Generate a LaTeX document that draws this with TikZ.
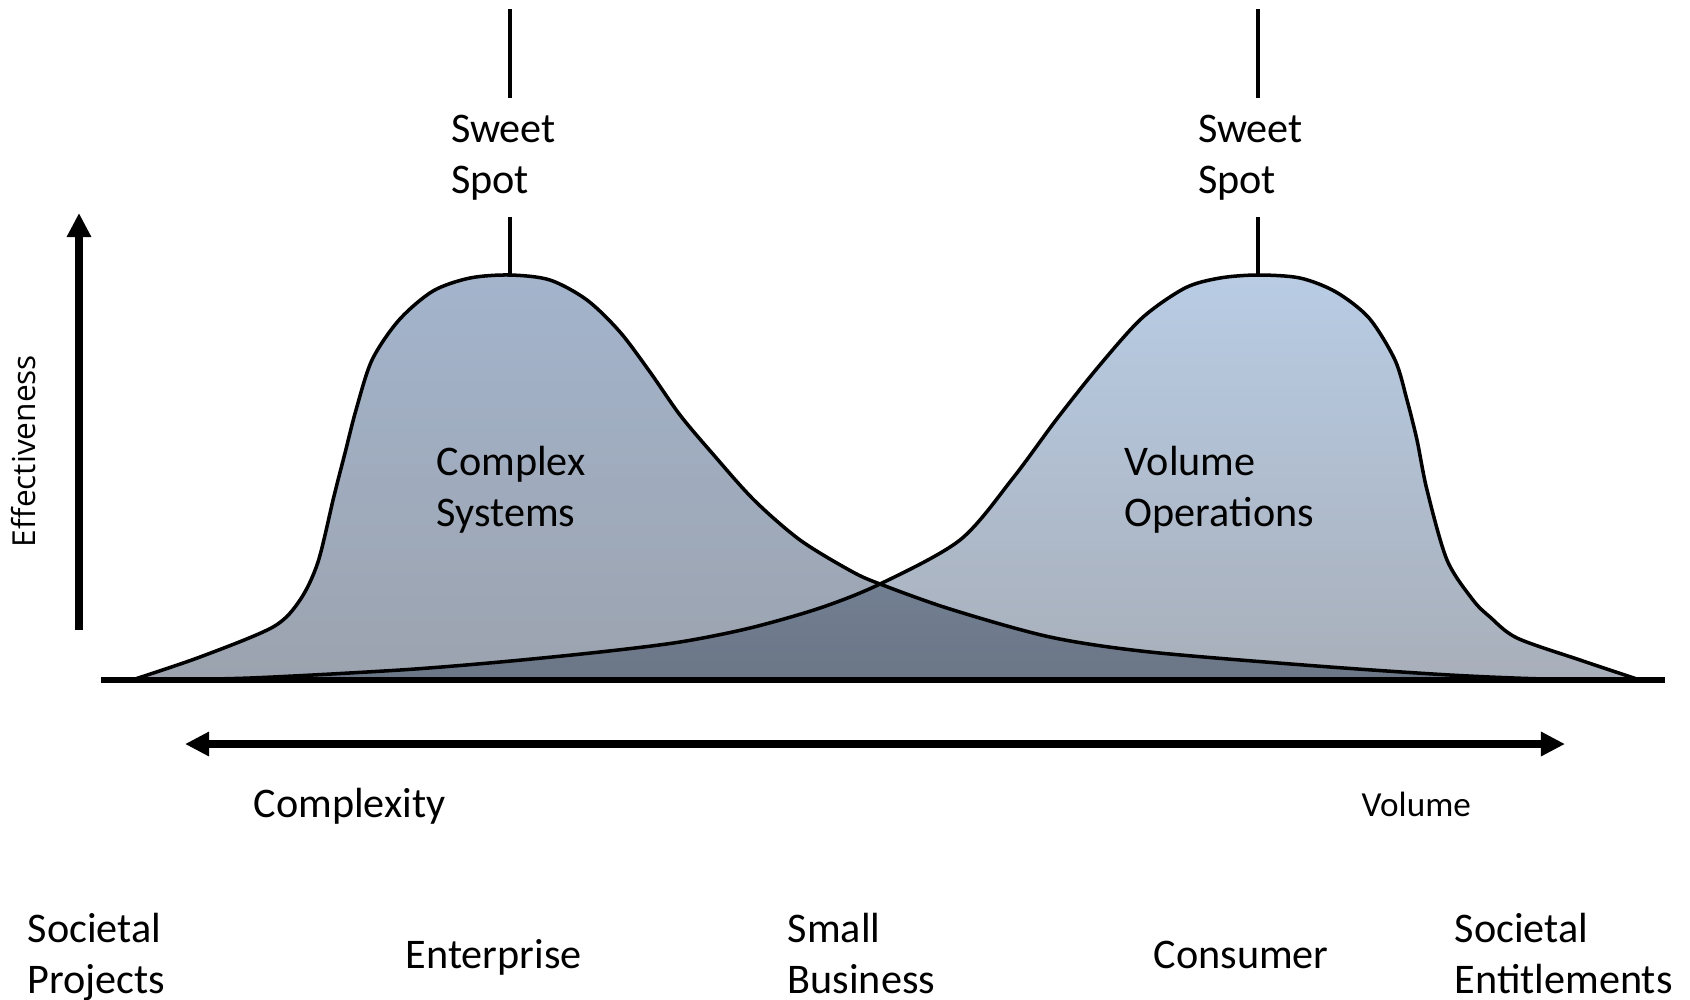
\documentclass[tikz,border=0pt]{standalone}
\usepackage{fontspec}
\setmainfont{Carlito}
\newfontfamily\axisfont{Open Sans}
\usetikzlibrary{arrows.meta}

\definecolor{cplxtop}{HTML}{A3B4CC}
\definecolor{cplxbot}{HTML}{9CA3AF}
\definecolor{voltop}{HTML}{B8CCE4}
\definecolor{volbot}{HTML}{A8AFBA}
\definecolor{bothtop}{HTML}{889DBA}
\definecolor{bothbot}{HTML}{6B7686}

\tikzset{
  txt/.style={inner sep=0mm, anchor=base west, align=left, font=\fontsize{12}{14.5}\selectfont},
  bell/.style={draw=black, line width=1pt},
  spot/.style={line width=1.1pt},
  axishead/.tip={Triangle[length=0.24cm,width=0.23cm]},
  axis/.style={line width=#1}
}

\def\cplxcurve{plot[smooth] coordinates {(132,680) (200,657) (273,627) (300,600) (318,562) (334,496) (345,453) (356,410) (372,360) (399,320) (433,291) (470,278) (510,275) (550,280) (587,300) (620,332) (650,372) (680,415) (712,453) (754,500) (800,540) (851,571) (880,584) (950,609) (1050,637) (1150,652) (1317,666) (1450,675) (1545,679) (1640,680)}}
\def\volcurve{plot[smooth] coordinates {(140,680) (250,678) (400,670) (500,662) (600,652) (680,642) (750,628) (820,608) (880,584) (960,540) (1013,478) (1056,420) (1099,366) (1142,318) (1185,288) (1220,278) (1258,275) (1300,278) (1336,292) (1369,318) (1395,360) (1407,400) (1417,440) (1427,490) (1447,560) (1473,600) (1490,617) (1517,638) (1580,660) (1640,680)}}

\begin{document}
\begin{tikzpicture}[x=0.01cm, y=-0.01cm]
\useasboundingbox (0,0) rectangle (1690,999);

% the two bells and their overlap
\shade[top color=cplxtop, bottom color=cplxbot] \cplxcurve -- cycle;
\shade[top color=voltop, bottom color=volbot] \volcurve -- cycle;
\begin{scope}
  \clip \cplxcurve -- cycle;
  \shade[top color=bothtop, bottom color=bothbot] \volcurve -- cycle;
\end{scope}
\draw[bell] \cplxcurve;
\draw[bell] \volcurve;

% axes
\coordinate (base0) at (101,680);
\coordinate (base1) at (1665,680);
\draw[line width=1.7pt] (base0) -- (base1);
\coordinate (ybot) at (79,630);
\coordinate (ytop) at (79,213);
\draw[axis=2.3pt, -axishead] (ybot) -- (ytop);
\coordinate (xl) at (185,744);
\coordinate (xr) at (1565,744);
\draw[axis=2pt, axishead-axishead] (xl) -- (xr);
\node[inner sep=0mm, rotate=90, font=\axisfont\fontsize{9}{11}\selectfont] (eff) at (24,451) {Effectiveness};

% sweet spots
\foreach \x/\p/\n in {510/434/l, 1258/1181/r} {
  \node[txt, outer sep=2pt, inner sep=1mm] (\n spot) at (\p,193) {Sweet\\Spot};
  \coordinate (\n top) at (\x,9);
  \coordinate (\n peak) at (\x,275);
  \draw[spot] (\n top) -- (\n top |- \n spot.north);
  \draw[spot] (\n peak |- \n spot.south) -- (\n peak);
}

% labels
\foreach \x/\y/\n/\t in {436/526/cplx/{Complex\\Systems}, 1124/526/vol/{Volume\\Operations}, 253/817/complexity/Complexity,
    27/993/proj/{Societal\\Projects}, 405/968/ent/Enterprise, 787/993/small/{Small\\Business}, 1153/968/cons/Consumer, 1454/993/entl/{Societal\\Entitlements}}
  \node[txt] (\n) at (\x,\y) {\t};
\node[txt, font=\fontsize{10}{12}\selectfont] (volume) at (1361,816) {Volume};

\end{tikzpicture}
\end{document}
